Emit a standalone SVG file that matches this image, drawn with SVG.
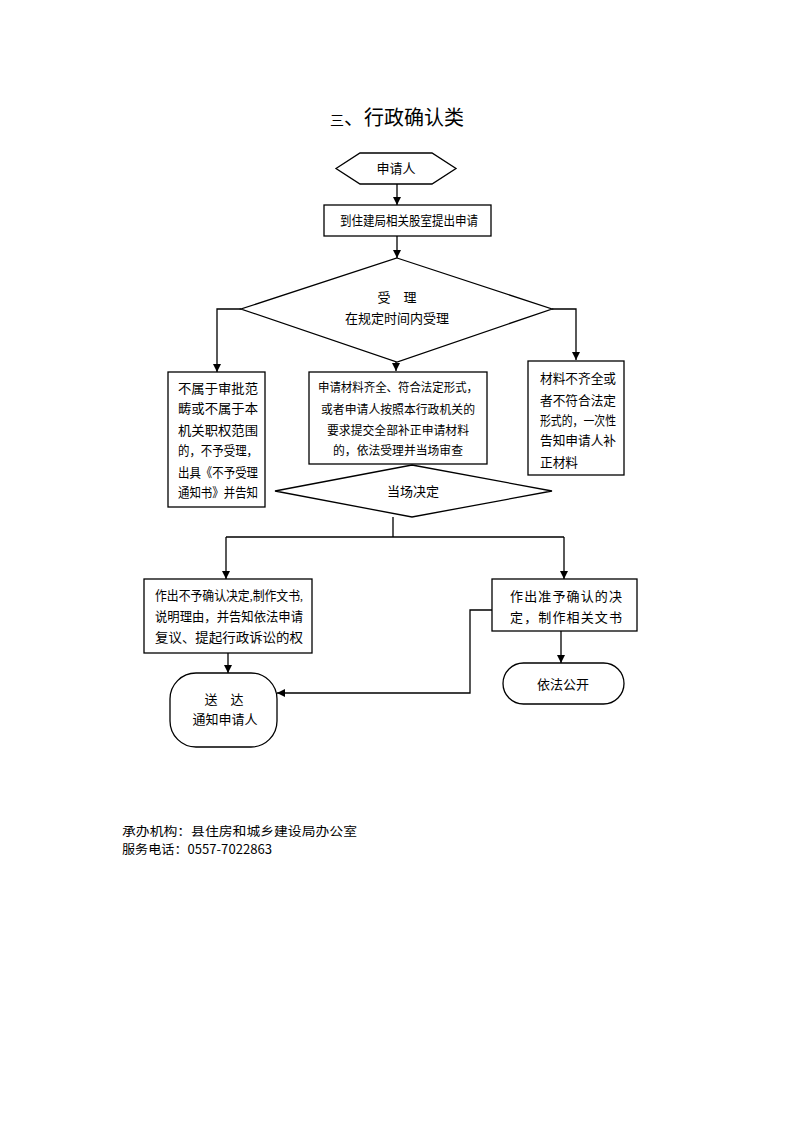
<svg xmlns="http://www.w3.org/2000/svg" width="793" height="1122" viewBox="0 0 793 1122">
<style>
.s{fill:#fff;stroke:#000;stroke-width:1.3}
.c{fill:none;stroke:#000;stroke-width:1.3}
text{font-family:"Liberation Serif","Noto Sans CJK SC",serif;fill:#000}
.t{font-size:13px;text-anchor:middle}
.l{font-size:13px}
.f{font-family:"Noto Sans CJK SC","Noto Sans",sans-serif;font-size:12.5px}
</style>
<defs>
<marker id="a" viewBox="0 0 10 10" refX="10" refY="5" markerWidth="8" markerHeight="8" markerUnits="userSpaceOnUse" orient="auto">
<path d="M0,0 L10,5 L0,10 z" fill="#000"/>
</marker>
</defs>
<rect width="793" height="1122" fill="#fff"/>
<text x="397" y="125" style="font-size:20px;text-anchor:middle"><tspan style="font-size:14px">三</tspan>、行政确认类</text>

<g id="connectors">
<path class="c" d="M397,184 V205" marker-end="url(#a)"/>
<path class="c" d="M397,236 V258" marker-end="url(#a)"/>
<path class="c" d="M241,309 H217 V372" marker-end="url(#a)"/>
<path class="c" d="M552,309 H576 V360" marker-end="url(#a)"/>
<path class="c" d="M396,348 V371" marker-end="url(#a)"/>
<path class="c" d="M396,447 V464" marker-end="url(#a)"/>
<path class="c" d="M393,517 V537 M226,537 H564"/>
<path class="c" d="M226,537 V579" marker-end="url(#a)"/>
<path class="c" d="M564,537 V579" marker-end="url(#a)"/>
<path class="c" d="M228,653 V673" marker-end="url(#a)"/>
<path class="c" d="M561,631 V663" marker-end="url(#a)"/>
<path class="c" d="M492,610 H470 V693 H277" marker-end="url(#a)"/>
</g>

<g id="n-applicant">
<polygon class="s" points="336,168.5 360,153 432,153 456,168.5 432,184 360,184"/>
<text class="t" x="396" y="173">申请人</text>
</g>
<g id="n-submit">
<rect class="s" x="324" y="205" width="167" height="31"/>
<text class="l" x="340" y="225" textLength="138" lengthAdjust="spacingAndGlyphs">到住建局相关股室提出申请</text>
</g>
<g id="n-accept">
<polygon class="s" points="397,258 552,309 397,362 241,309"/>
<text class="t" x="397" y="302" xml:space="preserve">受    理</text>
<text class="t" x="397" y="323">在规定时间内受理</text>
</g>
<g id="n-reject">
<rect class="s" x="168" y="372" width="97" height="135"/>
<text class="l" x="178" y="393" textLength="80" lengthAdjust="spacingAndGlyphs">不属于审批范</text>
<text class="l" x="178" y="413" textLength="80" lengthAdjust="spacingAndGlyphs">畴或不属于本</text>
<text class="l" x="178" y="435" textLength="80" lengthAdjust="spacingAndGlyphs">机关职权范围</text>
<text class="l" x="178" y="455" textLength="80" lengthAdjust="spacingAndGlyphs">的，不予受理，</text>
<text class="l" x="178" y="477" textLength="80" lengthAdjust="spacingAndGlyphs">出具《不予受理</text>
<text class="l" x="178" y="497" textLength="80" lengthAdjust="spacingAndGlyphs">通知书》并告知</text>
</g>
<g id="n-complete">
<rect class="s" x="309" y="372" width="178" height="92"/>
<text x="398" y="392" style="font-size:12px;text-anchor:middle" textLength="160" lengthAdjust="spacingAndGlyphs">申请材料齐全、符合法定形式，</text>
<text x="398" y="414" style="font-size:12px;text-anchor:middle" textLength="154" lengthAdjust="spacingAndGlyphs">或者申请人按照本行政机关的</text>
<text x="398" y="435" style="font-size:12px;text-anchor:middle" textLength="142" lengthAdjust="spacingAndGlyphs">要求提交全部补正申请材料</text>
<text x="398" y="455" style="font-size:12px;text-anchor:middle" textLength="130" lengthAdjust="spacingAndGlyphs">的，依法受理并当场审查</text>
</g>
<g id="n-incomplete">
<rect class="s" x="528" y="361" width="96" height="114"/>
<text class="l" x="540" y="383" textLength="76" lengthAdjust="spacingAndGlyphs">材料不齐全或</text>
<text class="l" x="540" y="405" textLength="76" lengthAdjust="spacingAndGlyphs">者不符合法定</text>
<text class="l" x="540" y="425" textLength="76" lengthAdjust="spacingAndGlyphs">形式的，一次性</text>
<text class="l" x="540" y="445" textLength="76" lengthAdjust="spacingAndGlyphs">告知申请人补</text>
<text class="l" x="540" y="467" textLength="38" lengthAdjust="spacingAndGlyphs">正材料</text>
</g>
<g id="n-decide">
<polygon class="s" points="412,465 552,491 412,517 275,491"/>
<text class="t" x="413" y="496">当场决定</text>
</g>
<g id="n-deny">
<rect class="s" x="144" y="579" width="168" height="74"/>
<text class="l" x="155" y="600" textLength="148" lengthAdjust="spacingAndGlyphs">作出不予确认决定,制作文书,</text>
<text class="l" x="155" y="621" textLength="148" lengthAdjust="spacingAndGlyphs">说明理由，并告知依法申请</text>
<text class="l" x="155" y="642" textLength="148" lengthAdjust="spacingAndGlyphs">复议、提起行政诉讼的权</text>
</g>
<g id="n-approve">
<rect class="s" x="492" y="579" width="145" height="52"/>
<text class="l" x="510" y="601" textLength="112" lengthAdjust="spacing">作出准予确认的决</text>
<text class="l" x="510" y="622" textLength="112" lengthAdjust="spacing">定，制作相关文书</text>
</g>
<g id="n-deliver">
<rect class="s" x="170" y="673" width="107" height="74" rx="26" ry="26"/>
<text class="t" x="224" y="704" xml:space="preserve">送    达</text>
<text class="t" x="225" y="724">通知申请人</text>
</g>
<g id="n-public">
<rect class="s" x="503" y="663" width="121" height="41" rx="20.5" ry="20.5"/>
<text class="t" x="563" y="689">依法公开</text>
</g>
<text class="f" x="122" y="836" textLength="235" lengthAdjust="spacingAndGlyphs">承办机构：县住房和城乡建设局办公室</text>
<text class="f" x="122" y="854" textLength="150" lengthAdjust="spacingAndGlyphs">服务电话：0557-7022863</text>
</svg>
